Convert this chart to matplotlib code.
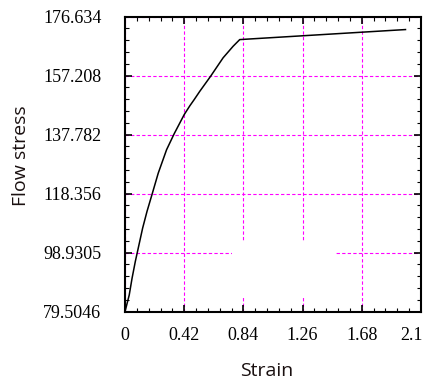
import matplotlib
matplotlib.use("Agg")
import matplotlib.pyplot as plt
import matplotlib.transforms as mtransforms
from matplotlib.patches import Rectangle
from matplotlib.ticker import AutoMinorLocator

# Data
strain = [0.0, 0.030, 0.050, 0.073, 0.087, 0.125, 0.156, 0.191, 0.236, 0.295, 0.349,
          0.42, 0.460, 0.491, 0.531, 0.607, 0.696, 0.767, 0.814, 1.99]
stress = [79.5046, 85.0, 90.5, 96.0, 98.96, 107.0, 112.5, 118.0, 125.15, 132.84, 138.1,
          144.4, 147.3, 149.35, 152.1, 157.0, 163.1, 166.9, 169.1, 172.4]

x_ticks = [0, 0.42, 0.84, 1.26, 1.68, 2.1]
x_ticklabels = ['0', '0.42', '0.84', '1.26', '1.68', '2.1']
y_ticks = [79.5046, 98.9305, 118.3564, 137.7822, 157.2080, 176.634]
y_ticklabels = ['79.5046', '98.9305', '118.356', '137.782', '157.208', '176.634']

fig = plt.figure(figsize=(4.24, 3.89), dpi=100)
ax = fig.add_axes([125/424, 77.3/389, 296/424, 295/389])

ax.plot(strain, stress, color='black', lw=1.1, zorder=5)

ax.set_xlim(x_ticks[0], x_ticks[-1])
ax.set_ylim(y_ticks[0], y_ticks[-1])
ax.set_xticks(x_ticks)
ax.set_xticklabels(x_ticklabels)
ax.set_yticks(y_ticks)
ax.set_yticklabels(y_ticklabels)
ax.xaxis.set_minor_locator(AutoMinorLocator(5))
ax.yaxis.set_minor_locator(AutoMinorLocator(5))

ax.tick_params(which='both', direction='in', top=True, right=True, color='black')
ax.tick_params(which='major', length=5, width=1.2)
ax.tick_params(which='minor', length=3, width=0.8)
ax.tick_params(axis='y', which='major', pad=17)
ax.tick_params(axis='x', which='major', pad=11)
for lab in ax.get_xticklabels() + ax.get_yticklabels():
    lab.set_fontfamily('Liberation Serif')
    lab.set_fontsize(13)

# last x label sits flush with the right edge in the reference
last = ax.get_xticklabels()[-1]
last.set_horizontalalignment('right')
last.set_transform(last.get_transform() +
                   mtransforms.ScaledTranslation(2/100, 0, fig.dpi_scale_trans))

for s in ax.spines.values():
    s.set_linewidth(1.5)
    s.set_color('black')

ax.grid(True, which='major', color='#ff00ff', lw=0.8, linestyle=(0, (3, 2)), zorder=1)
ax.set_axisbelow(True)

# blank (empty legend-like) box masking the grid
ax.add_patch(Rectangle((0.36, 0.049), 0.352, 0.188, transform=ax.transAxes,
                       facecolor='white', edgecolor='none', zorder=2))

fig.text(267/424, 1 - 371/389, 'Strain', ha='center', va='center',
         fontsize=14, family='Open Sans', color='#1a1010')
fig.text(21/424, 1 - 156/389, 'Flow stress', ha='center', va='center',
         rotation=90, fontsize=14, family='Open Sans', color='#1a1010')

fig.savefig('out.png', dpi=100)
